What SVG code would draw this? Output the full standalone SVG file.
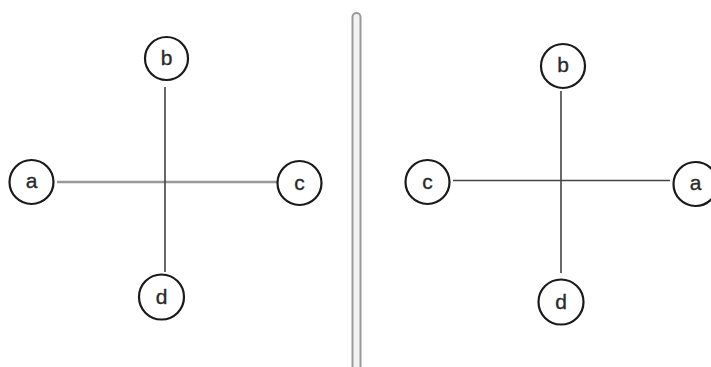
<svg xmlns="http://www.w3.org/2000/svg" width="711" height="367" viewBox="0 0 711 367">
<style>
.node circle{fill:#fff;stroke:#1a1a1a;stroke-width:2.2}
.node text{font-family:"Liberation Sans",Arial,sans-serif;font-size:21px;fill:#2a2a2a;stroke:#2a2a2a;stroke-width:0.35;text-anchor:middle}
.edge{stroke:#444;stroke-width:1.6;fill:none}
.edge.light{stroke:#999;stroke-width:2.4}
</style>
<rect width="711" height="367" fill="#fff"/>
<g id="divider">
<rect x="352.5" y="13" width="8" height="370" rx="4" fill="#f2f2f2" stroke="#9a9a9a" stroke-width="2"/>
</g>
<g id="connectors">
<line class="edge light" x1="57" y1="182" x2="277" y2="182"/>
<line class="edge" x1="165" y1="87" x2="165" y2="272"/>
<line class="edge" x1="453" y1="180.5" x2="670" y2="180.5"/>
<line class="edge" x1="561" y1="91" x2="561" y2="273"/>
</g>
<g id="L-b" class="node"><circle cx="166.5" cy="58.5" r="21.5"/><text x="166.5" y="65">b</text></g>
<g id="L-a" class="node"><circle cx="31.5" cy="182" r="22"/><text x="31.5" y="188">a</text></g>
<g id="L-c" class="node"><circle cx="299.5" cy="183" r="22"/><text x="299.5" y="190">c</text></g>
<g id="L-d" class="node"><circle cx="161.5" cy="297" r="22.5"/><text x="161.5" y="304">d</text></g>
<g id="R-b" class="node"><circle cx="563" cy="66" r="22"/><text x="563" y="72">b</text></g>
<g id="R-c" class="node"><circle cx="427.5" cy="182" r="22"/><text x="427.5" y="189">c</text></g>
<g id="R-a" class="node"><circle cx="695.5" cy="184" r="22"/><text x="695.5" y="190">a</text></g>
<g id="R-d" class="node"><circle cx="561" cy="302" r="22.5"/><text x="561" y="309">d</text></g>
</svg>
